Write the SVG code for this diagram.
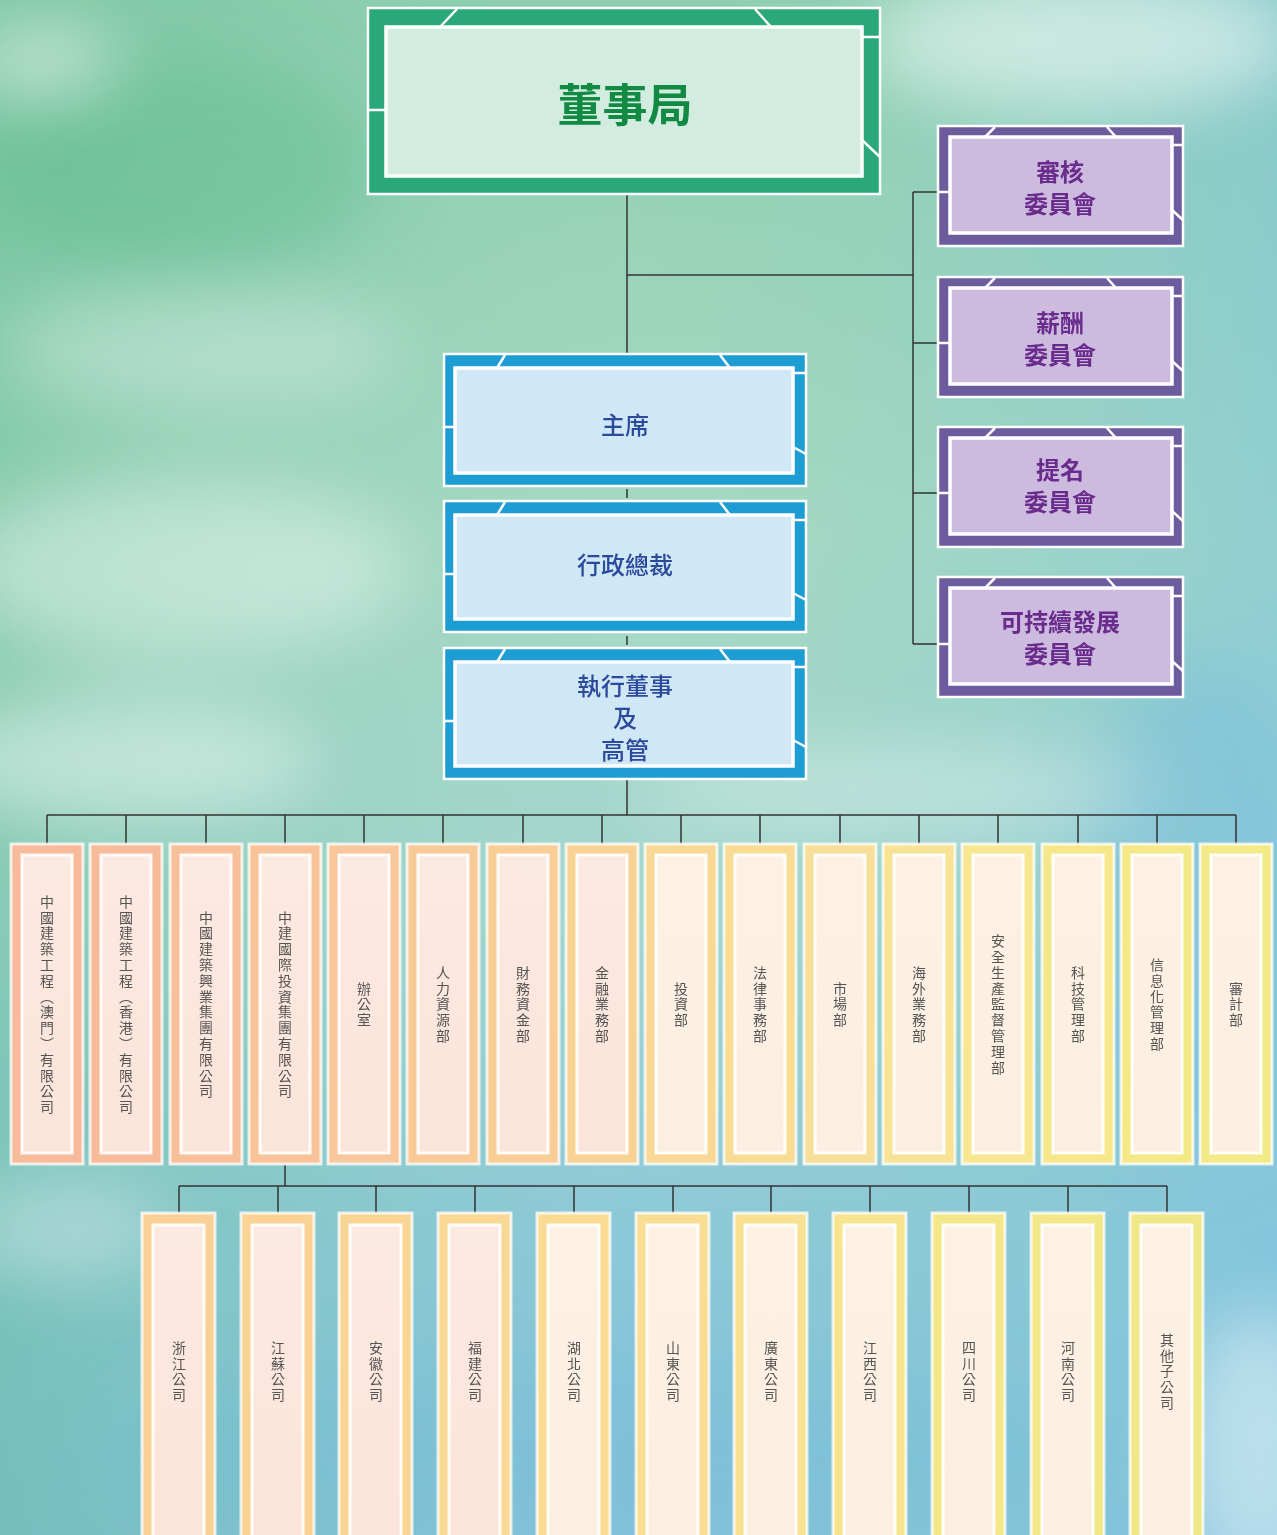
<svg xmlns="http://www.w3.org/2000/svg" width="1277" height="1535" viewBox="0 0 1277 1535">
<defs>
<linearGradient id="bgv" x1="0" y1="0" x2="0" y2="1">
<stop offset="0" stop-color="#8fcfb0"/>
<stop offset="0.35" stop-color="#a6d9c4"/>
<stop offset="0.6" stop-color="#a4d6d0"/>
<stop offset="0.8" stop-color="#8cc8d8"/>
<stop offset="1" stop-color="#86c2dc"/>
</linearGradient>
<linearGradient id="bgh" x1="0" y1="0" x2="1" y2="0">
<stop offset="0" stop-color="#5cb88e" stop-opacity="0.4"/>
<stop offset="0.5" stop-color="#8fd0b8" stop-opacity="0"/>
<stop offset="1" stop-color="#7ec4e0" stop-opacity="0.5"/>
</linearGradient>
<filter id="blur" x="-50%" y="-50%" width="200%" height="200%"><feGaussianBlur stdDeviation="35"/></filter>
<linearGradient id="pinkPanel" x1="0" y1="0" x2="0" y2="1">
<stop offset="0" stop-color="#fce9e0"/>
<stop offset="1" stop-color="#fbe4da"/>
</linearGradient>
<linearGradient id="yelPanel" x1="0" y1="0" x2="0" y2="1">
<stop offset="0" stop-color="#fdf1e4"/>
<stop offset="1" stop-color="#fcefe2"/>
</linearGradient>
</defs>
<style>
.deco{stroke:#ffffff;stroke-width:2.5;fill:none}
.outer{stroke:#ffffff;stroke-width:2.5}
.inner{stroke:#ffffff;stroke-width:3.5}
.gOuter{fill:#2aa87a}
.gInner{fill:#d2ecdf}
.pOuter{fill:#6c5c9e}
.pInner{fill:#cdbbdf}
.bOuter{fill:#1e9dd4}
.bInner{fill:#d0e7f5}
.board{font-family:"Noto Sans CJK TC","Noto Sans CJK SC",sans-serif;font-size:45px;font-weight:bold;fill:#128a44;text-anchor:middle}
.comm{font-family:"Noto Sans CJK TC","Noto Sans CJK SC",sans-serif;font-size:24px;font-weight:bold;fill:#6a2c8c;text-anchor:middle}
.exec{font-family:"Noto Sans CJK TC","Noto Sans CJK SC",sans-serif;font-size:24px;font-weight:500;fill:#2b4a9b;text-anchor:middle}
.vt{font-family:"Noto Sans CJK TC","Noto Sans CJK SC",sans-serif;font-size:14px;fill:#555555;text-anchor:middle;writing-mode:vertical-rl;letter-spacing:1.8px}
.col{stroke:#ffffff;stroke-opacity:0.75;stroke-width:3}
.colIn{stroke:#ffffff;stroke-width:3;stroke-opacity:0.9}
.conn{stroke:#333333;stroke-width:1.5;fill:none}
</style>

<!-- background -->
<rect x="0" y="0" width="1277" height="1535" fill="url(#bgv)"/>
<rect x="0" y="0" width="1277" height="1535" fill="url(#bgh)"/>
<g filter="url(#blur)">
<ellipse cx="180" cy="170" rx="200" ry="110" fill="#4fb484" opacity="0.35"/>
<ellipse cx="1200" cy="900" rx="120" ry="250" fill="#6fb8e0" opacity="0.35"/>
<ellipse cx="600" cy="1450" rx="500" ry="90" fill="#6cb8d4" opacity="0.3"/>
</g>
<g filter="url(#blur)" fill="#ffffff">
<ellipse cx="40" cy="60" rx="80" ry="35" opacity="0.55"/>
<ellipse cx="1080" cy="40" rx="220" ry="70" opacity="0.55"/>
<ellipse cx="200" cy="350" rx="200" ry="60" opacity="0.3"/>
<ellipse cx="180" cy="570" rx="230" ry="90" opacity="0.4"/>
<ellipse cx="120" cy="760" rx="200" ry="60" opacity="0.45"/>
<ellipse cx="900" cy="790" rx="260" ry="40" opacity="0.35"/>
<ellipse cx="1260" cy="1450" rx="80" ry="140" opacity="0.45"/>
<ellipse cx="60" cy="1230" rx="110" ry="50" opacity="0.35"/>
</g>

<!-- connectors -->
<g id="connectors" class="conn">
<path d="M627 195V353"/>
<path d="M627 275H913"/>
<path d="M913 192V644"/>
<path d="M913 192H938M913 343H938M913 493H938M913 644H938"/>
<path d="M627 489V498M627 636V645"/>
<path d="M627 780V815"/>
<path d="M47 815H1236"/>
<path d="M47 815V844M126 815V844M206 815V844M285 815V844M364 815V844M443 815V844M523 815V844M602 815V844M681 815V844M760 815V844M840 815V844M919 815V844M998 815V844M1078 815V844M1157 815V844M1236 815V844"/>
<path d="M285 1165V1186"/>
<path d="M179 1186H1167"/>
<path d="M179 1186V1213M278 1186V1213M376 1186V1213M475 1186V1213M574 1186V1213M673 1186V1213M771 1186V1213M870 1186V1213M969 1186V1213M1068 1186V1213M1167 1186V1213"/>
</g>

<!-- board -->
<g id="board">
<rect class="outer gOuter" x="368" y="8" width="512" height="186"/>
<rect class="inner gInner" x="386" y="27" width="476" height="149"/>
<path class="deco" d="M457 9L440 27M755 9L771 27M862 37H880M862 140L880 157M368 110H386"/>
<text class="board" x="625" y="122">董事局</text>
</g>

<!-- committees -->
<g id="audit">
<rect class="outer pOuter" x="938" y="126" width="245" height="120"/>
<rect class="inner pInner" x="950" y="137" width="222" height="96"/>
<path class="deco" d="M995 127L985 137M1107 127L1116 137M1172 145H1183M1172 210L1183 220M938 192H950"/>
<text class="comm" x="1060" y="181">審核</text>
<text class="comm" x="1060" y="213">委員會</text>
</g>
<g id="remuneration">
<rect class="outer pOuter" x="938" y="277" width="245" height="120"/>
<rect class="inner pInner" x="950" y="288" width="222" height="96"/>
<path class="deco" d="M995 278L985 288M1107 278L1116 288M1172 296H1183M1172 361L1183 371M938 343H950"/>
<text class="comm" x="1060" y="332">薪酬</text>
<text class="comm" x="1060" y="364">委員會</text>
</g>
<g id="nomination">
<rect class="outer pOuter" x="938" y="427" width="245" height="120"/>
<rect class="inner pInner" x="950" y="438" width="222" height="96"/>
<path class="deco" d="M995 428L985 438M1107 428L1116 438M1172 446H1183M1172 511L1183 521M938 493H950"/>
<text class="comm" x="1060" y="479">提名</text>
<text class="comm" x="1060" y="511">委員會</text>
</g>
<g id="sustainability">
<rect class="outer pOuter" x="938" y="577" width="245" height="120"/>
<rect class="inner pInner" x="950" y="588" width="222" height="96"/>
<path class="deco" d="M995 578L985 588M1107 578L1116 588M1172 596H1183M1172 661L1183 671M938 644H950"/>
<text class="comm" x="1060" y="631">可持續發展</text>
<text class="comm" x="1060" y="663">委員會</text>
</g>

<!-- executive chain -->
<g id="chairman">
<rect class="outer bOuter" x="444" y="354" width="362" height="132"/>
<rect class="inner bInner" x="455" y="368" width="338" height="105"/>
<path class="deco" d="M505 355L497 368M720 355L730 368M793 373H806M793 447L806 454M444 427H455"/>
<text class="exec" x="625" y="434">主席</text>
</g>
<g id="ceo">
<rect class="outer bOuter" x="444" y="501" width="362" height="131"/>
<rect class="inner bInner" x="455" y="515" width="338" height="104"/>
<path class="deco" d="M505 502L497 515M720 502L730 515M793 520H806M793 593L806 600M444 574H455"/>
<text class="exec" x="625" y="574">行政總裁</text>
</g>
<g id="executives">
<rect class="outer bOuter" x="444" y="648" width="362" height="131"/>
<rect class="inner bInner" x="455" y="662" width="338" height="104"/>
<path class="deco" d="M505 649L497 662M720 649L730 662M793 667H806M793 740L806 747M444 721H455"/>
<text class="exec" x="625" y="695">執行董事</text>
<text class="exec" x="625" y="727">及</text>
<text class="exec" x="625" y="759">高管</text>
</g>

<!-- departments / subsidiaries row -->
<g id="d1"><rect class="col" x="11" y="844" width="72" height="320" fill="#f7bb9c"/><rect class="colIn" x="22" y="855" width="50" height="298" fill="url(#pinkPanel)"/><text class="vt" x="47" y="1005">中國建築工程（澳門）有限公司</text></g>
<g id="d2"><rect class="col" x="90" y="844" width="72" height="320" fill="#f7bb9a"/><rect class="colIn" x="101" y="855" width="50" height="298" fill="url(#pinkPanel)"/><text class="vt" x="126" y="1005">中國建築工程（香港）有限公司</text></g>
<g id="d3"><rect class="col" x="170" y="844" width="72" height="320" fill="#f7bf9a"/><rect class="colIn" x="181" y="855" width="50" height="298" fill="url(#pinkPanel)"/><text class="vt" x="206" y="1005">中國建築興業集團有限公司</text></g>
<g id="d4"><rect class="col" x="249" y="844" width="72" height="320" fill="#f8c398"/><rect class="colIn" x="260" y="855" width="50" height="298" fill="url(#pinkPanel)"/><text class="vt" x="285" y="1005">中建國際投資集團有限公司</text></g>
<g id="d5"><rect class="col" x="328" y="844" width="72" height="320" fill="#f8c79c"/><rect class="colIn" x="339" y="855" width="50" height="298" fill="url(#pinkPanel)"/><text class="vt" x="364" y="1005">辦公室</text></g>
<g id="d6"><rect class="col" x="407" y="844" width="72" height="320" fill="#f8ca98"/><rect class="colIn" x="418" y="855" width="50" height="298" fill="url(#pinkPanel)"/><text class="vt" x="443" y="1005">人力資源部</text></g>
<g id="d7"><rect class="col" x="487" y="844" width="72" height="320" fill="#f8ce96"/><rect class="colIn" x="498" y="855" width="50" height="298" fill="url(#pinkPanel)"/><text class="vt" x="523" y="1005">財務資金部</text></g>
<g id="d8"><rect class="col" x="566" y="844" width="72" height="320" fill="#f8d294"/><rect class="colIn" x="577" y="855" width="50" height="298" fill="url(#pinkPanel)"/><text class="vt" x="602" y="1005">金融業務部</text></g>
<g id="d9"><rect class="col" x="645" y="844" width="72" height="320" fill="#f8d894"/><rect class="colIn" x="656" y="855" width="50" height="298" fill="url(#yelPanel)"/><text class="vt" x="681" y="1005">投資部</text></g>
<g id="d10"><rect class="col" x="724" y="844" width="72" height="320" fill="#f8dc94"/><rect class="colIn" x="735" y="855" width="50" height="298" fill="url(#yelPanel)"/><text class="vt" x="760" y="1005">法律事務部</text></g>
<g id="d11"><rect class="col" x="804" y="844" width="72" height="320" fill="#f8de96"/><rect class="colIn" x="815" y="855" width="50" height="298" fill="url(#yelPanel)"/><text class="vt" x="840" y="1005">市場部</text></g>
<g id="d12"><rect class="col" x="883" y="844" width="72" height="320" fill="#f8e294"/><rect class="colIn" x="894" y="855" width="50" height="298" fill="url(#yelPanel)"/><text class="vt" x="919" y="1005">海外業務部</text></g>
<g id="d13"><rect class="col" x="962" y="844" width="72" height="320" fill="#f8e690"/><rect class="colIn" x="973" y="855" width="50" height="298" fill="url(#yelPanel)"/><text class="vt" x="998" y="1005">安全生產監督管理部</text></g>
<g id="d14"><rect class="col" x="1042" y="844" width="72" height="320" fill="#f6e88a"/><rect class="colIn" x="1053" y="855" width="50" height="298" fill="url(#yelPanel)"/><text class="vt" x="1078" y="1005">科技管理部</text></g>
<g id="d15"><rect class="col" x="1121" y="844" width="72" height="320" fill="#f4e986"/><rect class="colIn" x="1132" y="855" width="50" height="298" fill="url(#yelPanel)"/><text class="vt" x="1157" y="1005">信息化管理部</text></g>
<g id="d16"><rect class="col" x="1200" y="844" width="72" height="320" fill="#f4eb88"/><rect class="colIn" x="1211" y="855" width="50" height="298" fill="url(#yelPanel)"/><text class="vt" x="1236" y="1005">審計部</text></g>

<!-- regional companies -->
<g id="r1"><rect class="col" x="142" y="1213" width="73" height="340" fill="#f9d096"/><rect class="colIn" x="153" y="1225" width="51" height="340" fill="url(#pinkPanel)"/><text class="vt" x="179" y="1372">浙江公司</text></g>
<g id="r2"><rect class="col" x="241" y="1213" width="73" height="340" fill="#f9d294"/><rect class="colIn" x="252" y="1225" width="51" height="340" fill="url(#pinkPanel)"/><text class="vt" x="278" y="1372">江蘇公司</text></g>
<g id="r3"><rect class="col" x="339" y="1213" width="73" height="340" fill="#f9d594"/><rect class="colIn" x="350" y="1225" width="51" height="340" fill="url(#pinkPanel)"/><text class="vt" x="376" y="1372">安徽公司</text></g>
<g id="r4"><rect class="col" x="438" y="1213" width="73" height="340" fill="#f9d794"/><rect class="colIn" x="449" y="1225" width="51" height="340" fill="url(#pinkPanel)"/><text class="vt" x="475" y="1372">福建公司</text></g>
<g id="r5"><rect class="col" x="537" y="1213" width="73" height="340" fill="#f9db94"/><rect class="colIn" x="548" y="1225" width="51" height="340" fill="url(#yelPanel)"/><text class="vt" x="574" y="1372">湖北公司</text></g>
<g id="r6"><rect class="col" x="636" y="1213" width="73" height="340" fill="#f8dd92"/><rect class="colIn" x="647" y="1225" width="51" height="340" fill="url(#yelPanel)"/><text class="vt" x="673" y="1372">山東公司</text></g>
<g id="r7"><rect class="col" x="734" y="1213" width="73" height="340" fill="#f8e192"/><rect class="colIn" x="745" y="1225" width="51" height="340" fill="url(#yelPanel)"/><text class="vt" x="771" y="1372">廣東公司</text></g>
<g id="r8"><rect class="col" x="833" y="1213" width="73" height="340" fill="#f6e58e"/><rect class="colIn" x="844" y="1225" width="51" height="340" fill="url(#yelPanel)"/><text class="vt" x="870" y="1372">江西公司</text></g>
<g id="r9"><rect class="col" x="932" y="1213" width="73" height="340" fill="#f4e78a"/><rect class="colIn" x="943" y="1225" width="51" height="340" fill="url(#yelPanel)"/><text class="vt" x="969" y="1372">四川公司</text></g>
<g id="r10"><rect class="col" x="1031" y="1213" width="73" height="340" fill="#f2e888"/><rect class="colIn" x="1042" y="1225" width="51" height="340" fill="url(#yelPanel)"/><text class="vt" x="1068" y="1372">河南公司</text></g>
<g id="r11"><rect class="col" x="1130" y="1213" width="73" height="340" fill="#f0e886"/><rect class="colIn" x="1141" y="1225" width="51" height="340" fill="url(#yelPanel)"/><text class="vt" x="1167" y="1372">其他子公司</text></g>
</svg>
